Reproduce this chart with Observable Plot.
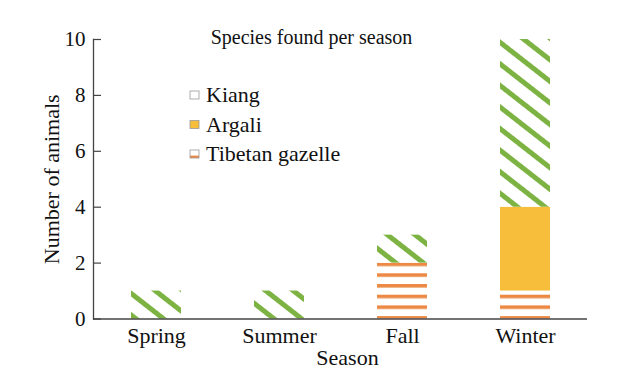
<!DOCTYPE html>
<html><head><meta charset="utf-8">
<script src="https://cdn.jsdelivr.net/npm/d3@7"></script>
<script src="https://cdn.jsdelivr.net/npm/@observablehq/plot@0.6"></script>
<style>
  html, body { margin: 0; padding: 0; background: #fff; }
  #chart { position: relative; width: 622px; height: 373px; }
</style>
</head><body><div id="chart"></div>
<script>
// ---- data ----
const seasons = ["Spring", "Summer", "Fall", "Winter"];
const species = ["Tibetan gazelle", "Argali", "Kiang"]; // stacking order, bottom to top
const gazelleCounts = [0, 0, 2, 1];
const argaliCounts  = [0, 0, 0, 3];
const kiangCounts   = [1, 1, 1, 6];
const yTicks = [0, 2, 4, 6, 8, 10];
const legendOrder = ["Kiang", "Argali", "Tibetan gazelle"];
const titleText = "Species found per season";
const xLabel = "Season";
const yLabel = "Number of animals";

const colors = { kiang: "#7CB342", argali: "#F6BE3A", gazelle: "#EC8A45" };
const fills = { "Kiang": "url(#pat-kiang)", "Argali": colors.argali, "Tibetan gazelle": "url(#pat-gazelle)" };

const countsBySpecies = { "Tibetan gazelle": gazelleCounts, "Argali": argaliCounts, "Kiang": kiangCounts };
const rows = [];
seasons.forEach((s, i) => species.forEach(sp => rows.push({ season: s, species: sp, count: countsBySpecies[sp][i] })));

const font = "'Liberation Serif', 'Times New Roman', serif";

const plot = Plot.plot({
  width: 622,
  height: 373,
  marginLeft: 93,
  marginRight: 35,
  marginTop: 39,
  marginBottom: 54.5,
  style: { fontFamily: font, fontSize: "20px", background: "white", color: "#111" },
  x: { domain: seasons, paddingInner: 0.595, paddingOuter: 0.2975, label: null },
  y: { domain: [0, 10], label: null },
  color: { domain: species, range: species.map(s => fills[s]) },
  marks: [
    Plot.barY(rows, { x: "season", y: "count", fill: "species", inset: 0 }),
    Plot.ruleY([0], { stroke: "#444", strokeWidth: 1.3 }),
    Plot.frame({ anchor: "left", stroke: "#444", strokeWidth: 1.3 }),
    Plot.axisY(yTicks, { tickSize: 0, tickPadding: 8, label: null, fontSize: 21 }),
    Plot.axisY(yTicks, { tickSize: -8, tickFormat: () => "", label: null, stroke: "#444", strokeWidth: 1.2 }),
    Plot.axisX({ tickSize: 0, tickPadding: 8, label: null, fontSize: 22 }),
    Plot.text([titleText], { text: d => d, frameAnchor: "top", dx: -29, dy: -1.5, fontSize: 20, lineAnchor: "middle" }),
    Plot.text([yLabel], { text: d => d, frameAnchor: "left", textAnchor: "middle", rotate: -90, dx: -42, fontSize: 22, lineAnchor: "middle" }),
    Plot.text([xLabel], { text: d => d, frameAnchor: "bottom", textAnchor: "middle", dx: 7, dy: 39, fontSize: 22, lineAnchor: "middle" })
  ]
});

const yScale = plot.scale("y");
const svg = d3.select(plot);
const defs = svg.insert("defs", ":first-child");

// Kiang: diagonal green stripes
const pk = defs.append("pattern").attr("id", "pat-kiang").attr("patternUnits", "userSpaceOnUse")
  .attr("width", 17).attr("height", 17).attr("patternTransform", "rotate(-52)");
pk.append("rect").attr("width", 17).attr("height", 17).attr("fill", "white");
pk.append("rect").attr("width", 5).attr("height", 17).attr("fill", colors.kiang);

// Tibetan gazelle: horizontal orange stripes
const period = 10.7;
const pg = defs.append("pattern").attr("id", "pat-gazelle").attr("patternUnits", "userSpaceOnUse")
  .attr("width", 20).attr("height", period).attr("y", yScale.apply(2));
pg.append("rect").attr("width", 20).attr("height", period).attr("fill", "white");
pg.append("rect").attr("width", 20).attr("height", 3.6).attr("fill", colors.gazelle);

// Legend
const lg = svg.append("g").attr("font-family", font).attr("font-size", 22).attr("fill", "#111").attr("text-anchor", "start");
legendOrder.forEach((sp, i) => {
  const base = 102 + i * 29.5;
  lg.append("rect").attr("x", 190).attr("y", base - 11).attr("width", 9).attr("height", 8)
    .attr("fill", fills[sp]).attr("stroke", "#999").attr("stroke-width", 0.8);
  lg.append("text").attr("x", 206).attr("y", base).text(sp);
});

document.getElementById("chart").appendChild(plot);
</script>
</body></html>
